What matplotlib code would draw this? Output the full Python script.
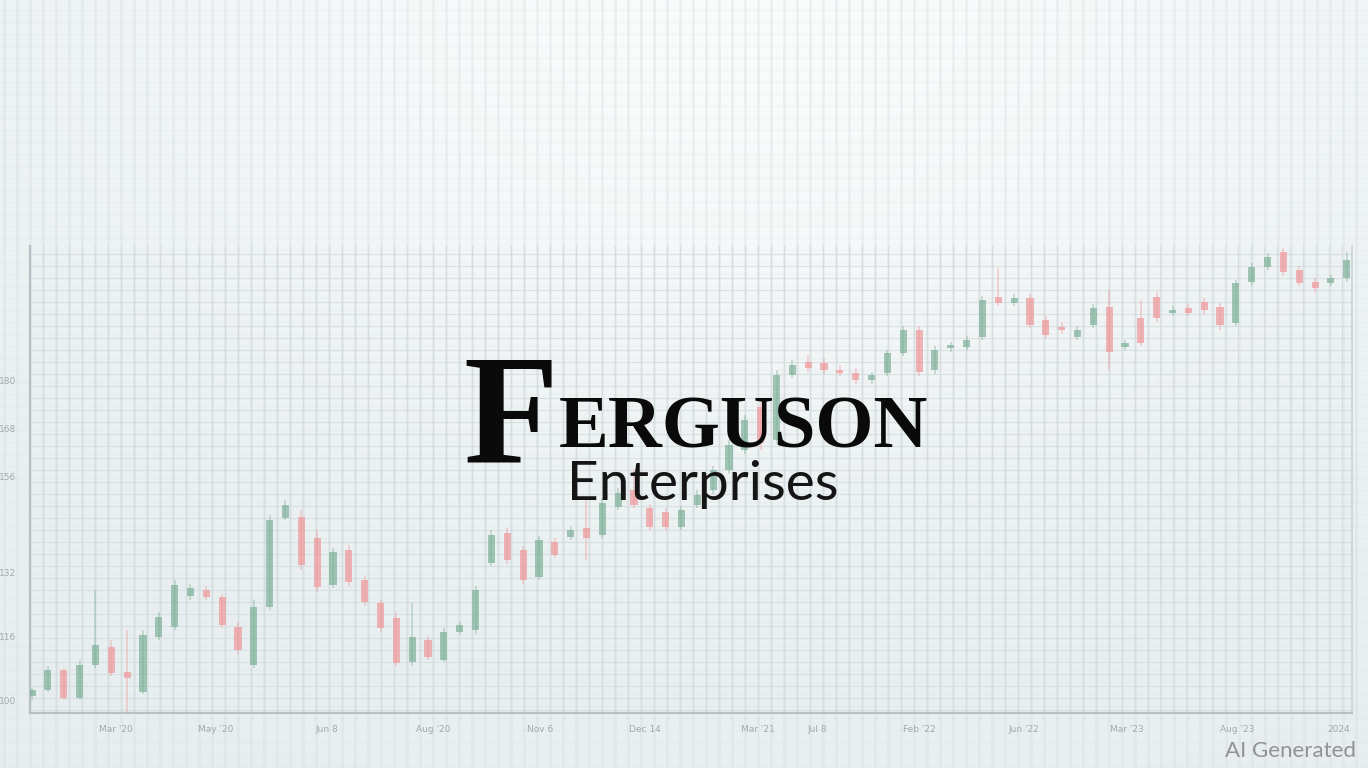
import numpy as np
import matplotlib
matplotlib.use("Agg")
import matplotlib.pyplot as plt

# ---------------- data ----------------
opens = [101.0, 102.5, 107.5, 100.5, 108.75, 113.25, 107.0, 102.0, 115.75, 118.25,
         126.0, 127.5, 125.75, 118.25, 108.75, 123.25, 145.5, 145.75, 140.5, 128.75,
         137.5, 130.0, 124.25, 120.5, 109.5, 115.0, 110.0, 117.0, 117.5, 134.25,
         141.75, 137.5, 130.75, 139.5, 140.75, 143.0, 141.25, 148.25, 152.5, 148.0,
         147.0, 143.25, 148.75, 152.5, 157.5, 162.5, 173.25, 165.0, 181.25, 184.5,
         184.25, 182.5, 181.75, 180.0, 181.75, 186.75, 192.5, 182.5, 188.0, 188.25,
         190.75, 200.75, 199.25, 200.5, 195.0, 193.25, 190.75, 193.75, 198.25, 188.25,
         195.5, 200.75, 196.75, 198.0, 199.5, 198.25, 194.25, 204.5, 208.25, 212.0,
         207.5, 204.5, 204.25, 205.5]
closes = [102.5, 107.5, 100.5, 108.75, 113.75, 106.75, 105.5, 116.25, 120.75, 128.75,
          128.0, 125.75, 118.75, 112.5, 123.25, 145.0, 148.75, 133.75, 128.25, 137.0,
          129.5, 124.5, 118.0, 109.25, 115.75, 110.75, 117.0, 118.75, 127.5, 141.25,
          135.0, 130.0, 140.0, 136.25, 142.5, 140.5, 149.25, 151.75, 148.75, 143.25,
          143.25, 147.5, 151.25, 157.5, 163.75, 170.0, 164.25, 181.25, 183.75, 183.0,
          182.5, 182.0, 180.0, 181.25, 186.75, 192.5, 182.0, 187.5, 188.75, 190.0,
          200.0, 199.25, 200.5, 193.75, 191.25, 192.5, 192.5, 198.0, 187.0, 189.25,
          189.25, 195.5, 197.5, 196.75, 197.5, 193.75, 204.25, 208.25, 210.75, 207.0,
          204.25, 203.0, 205.5, 210.0]
highs = [103.0, 108.5, 108.0, 110.0, 127.5, 115.0, 117.5, 117.5, 122.0, 130.0,
         129.0, 128.5, 126.5, 119.5, 125.0, 146.25, 150.0, 147.5, 142.5, 138.0,
         138.75, 131.0, 125.0, 122.0, 124.25, 116.0, 118.0, 119.5, 128.5, 142.5,
         143.0, 138.5, 141.0, 140.5, 143.5, 150.0, 150.5, 153.0, 157.5, 149.0,
         148.0, 148.5, 152.5, 158.5, 165.0, 171.25, 175.0, 182.5, 185.0, 186.25,
         185.5, 183.75, 183.0, 182.0, 187.5, 193.5, 193.5, 188.5, 189.5, 191.0,
         201.0, 208.0, 201.5, 201.5, 196.0, 194.5, 193.5, 199.0, 202.5, 190.0,
         200.0, 202.0, 198.5, 199.0, 200.5, 199.25, 205.0, 209.25, 211.75, 213.0,
         208.5, 205.5, 206.25, 212.0]
lows = [100.0, 102.0, 100.0, 100.0, 108.0, 106.0, 97.0, 101.5, 115.0, 117.5,
        125.0, 125.0, 118.0, 111.5, 108.0, 122.5, 145.0, 132.5, 127.0, 128.0,
        128.5, 123.5, 117.0, 108.5, 108.5, 110.0, 109.5, 116.5, 116.5, 133.5,
        134.0, 129.0, 130.0, 135.5, 140.0, 135.0, 140.5, 147.5, 148.0, 142.5,
        142.5, 142.5, 148.0, 151.5, 156.5, 161.5, 162.5, 164.0, 180.5, 182.0,
        181.5, 181.0, 179.0, 179.0, 181.0, 186.0, 181.0, 181.5, 187.0, 187.5,
        190.0, 198.5, 198.5, 193.0, 190.5, 191.5, 190.0, 193.0, 182.5, 187.5,
        188.5, 194.5, 196.0, 196.0, 196.5, 192.5, 193.5, 203.75, 207.5, 206.0,
        203.5, 202.0, 203.5, 204.5]

x_tick_pos = [5.3, 11.6, 18.6, 25.3, 32.1, 38.7, 45.8, 49.6, 56.0, 62.6, 69.1, 76.1, 82.5]
x_tick_labels = ["Mar '20", "May '20", "Jun 8", "Aug '20", "Nov 6", "Dec 14",
                 "Mar '21", "Jul 8", "Feb '22", "Jun '22", "Mar '23", "Aug '23", "2024"]
y_tick_pos = [180, 168, 156, 132, 116, 100]
y_tick_labels = ["180", "168", "156", "132", "116", "100"]

title_big = "F"
title_rest = "ERGUSON"
subtitle = "Enterprises"
watermark = "AI Generated"

# ---------------- figure ----------------
W, H = 1368, 768
fig = plt.figure(figsize=(W / 100, H / 100), dpi=100)

# background with soft gradient and faint vertical stripes
bg = fig.add_axes([0, 0, 1, 1])
gx = np.linspace(0, 1, 400)[None, :]
gy = np.linspace(0, 1, 300)[:, None]
glow = np.exp(-((gx - 0.55) / 0.5) ** 2 - ((gy - 0.0) / 0.6) ** 2)
base = np.array([0.91, 0.935, 0.94])
top = np.array([0.98, 0.985, 0.985])
img = base[None, None, :] + (top - base)[None, None, :] * glow[..., None]
bg.imshow(img, extent=[0, 1, 0, 1], aspect="auto", origin="upper", zorder=0)
for xp in np.arange(4, W, 13):
    bg.axvline(xp / W, color="#d5dde0", lw=2.0, alpha=0.35, zorder=1)
for yp in np.arange(10, H, 12):
    bg.axhline(1 - yp / H, color="#dde4e6", lw=0.8, alpha=0.25, zorder=1)
bg.set_xlim(0, 1)
bg.set_ylim(0, 1)
bg.axis("off")

# chart axes
left_px, right_px, bot_px, top_px = 30, 1352, 713, 246
ax = fig.add_axes([left_px / W, (H - bot_px) / H, (right_px - left_px) / W, (bot_px - top_px) / H])
ax.patch.set_alpha(0)
n = len(opens)
idx = np.arange(n)
ax.set_xlim(-0.13, 83.33)
ax.set_ylim(96.75, 213.5)

ax.set_xticks(np.arange(-0.1, 83.4, 0.82), minor=True)
ax.set_yticks(np.arange(97.5, 213.5, 3.0), minor=True)
ax.grid(which="minor", color="#d3dbde", lw=0.9, alpha=0.75, zorder=0)
ax.grid(which="major", visible=False)
ax.set_axisbelow(True)

o = np.array(opens); c = np.array(closes)
colors = np.where(c >= o, "#80b29b", "#ee9a9c")
ax.vlines(idx, lows, highs, color=colors, lw=1.2, alpha=0.45, zorder=2)
body = np.where(np.abs(c - o) < 0.8, 0.8 * np.sign(c - o + 1e-9), c - o)
ax.bar(idx, body, bottom=o, width=0.45, color=colors, alpha=0.72, zorder=3, linewidth=0)

ax.set_xticks(x_tick_pos)
ax.set_xticklabels(x_tick_labels, fontsize=6.5, color="#a0aaae")
ax.set_yticks(y_tick_pos)
ax.set_yticklabels(y_tick_labels, fontsize=6.5, color="#a0aaae")
ax.tick_params(axis="both", which="both", length=0)
ax.tick_params(axis="x", pad=9)
ax.tick_params(axis="y", pad=10)
for s in ["left", "bottom"]:
    ax.spines[s].set_color("#b7c0c4")
    ax.spines[s].set_linewidth(1.6)
ax.spines["right"].set_color("#cad2d5")
ax.spines["right"].set_linewidth(1.2)
ax.spines["top"].set_visible(False)

# ---------------- logo text ----------------
def fx(px):
    return px / W

def fy(py):
    return (H - py) / H

tF = fig.text(fx(463), fy(462), title_big, fontsize=112, family="Liberation Serif",
              fontweight="bold", color="#0a0a0a", va="baseline", ha="left", zorder=10)
fig.canvas.draw()
bbF = tF.get_window_extent()
tR = fig.text(bbF.x1 / W + fx(1), fy(447), title_rest, fontsize=60, family="Liberation Serif",
              fontweight="bold", color="#0a0a0a", va="baseline", ha="left", zorder=10)
fig.canvas.draw()
bbR = tR.get_window_extent()
target = 928 - bbF.x1
tR.set_fontsize(60 * target / bbR.width)

tE = fig.text(fx(567), fy(500), subtitle, fontsize=34, family="Lato",
              color="#151515", va="baseline", ha="left", zorder=10)
fig.canvas.draw()
bbE = tE.get_window_extent()
tE.set_fontsize(34 * 272 / bbE.width)

fig.text(fx(1356), fy(757), watermark, fontsize=16, family="Lato",
         color="#929292", va="baseline", ha="right", zorder=10)

fig.savefig("out.png", dpi=100)
